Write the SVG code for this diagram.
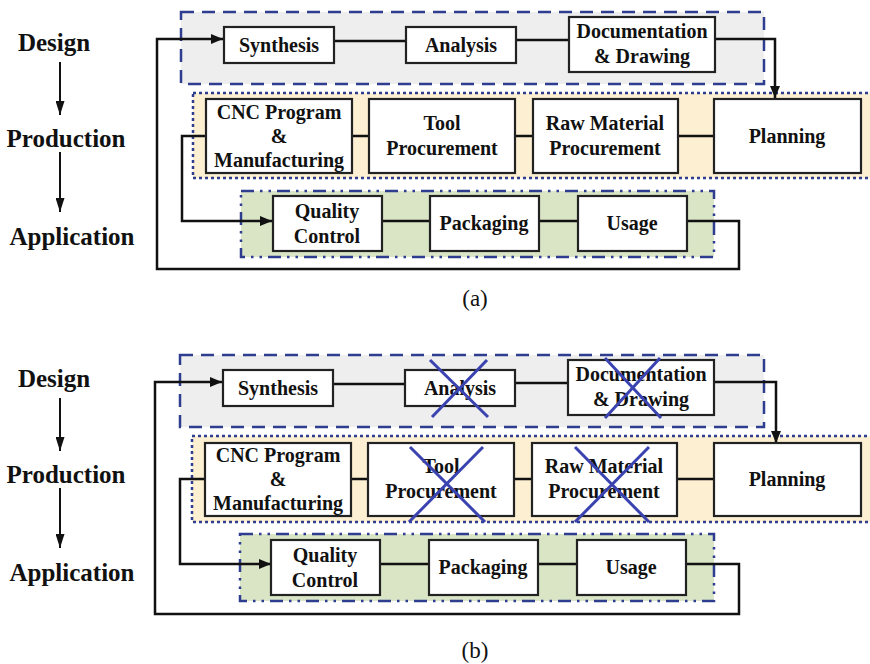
<svg xmlns="http://www.w3.org/2000/svg" width="870" height="664" viewBox="0 0 870 664">
<defs>
<style>
.lbl{font-family:"Liberation Serif","Times New Roman",serif;font-weight:bold;font-size:25px;fill:#111;text-anchor:middle}
.t{font-family:"Liberation Serif","Times New Roman",serif;font-weight:bold;font-size:20px;fill:#111;text-anchor:middle}
.cap{font-family:"Liberation Serif","Times New Roman",serif;font-size:23px;fill:#111;text-anchor:middle}
.box{fill:#fff;stroke:#222;stroke-width:2.2}
.con{fill:none;stroke:#111;stroke-width:2.5}
.arr{fill:none;stroke:#111;stroke-width:2.5;marker-end:url(#ah)}
.sa{stroke:#111;stroke-width:2;marker-end:url(#ah2)}
.des{fill:#eeeeee;stroke:#2e3d8f;stroke-width:2.5;stroke-dasharray:13 8}
.pro{fill:#fcefd2;stroke:#2e3d8f;stroke-width:2.5;stroke-dasharray:3 3}
.app{fill:#dae5c6;stroke:#2e3d8f;stroke-width:2.5;stroke-dasharray:13 6 2.5 6 2.5 6}
.x{stroke:#3a43b0;stroke-width:3;fill:none}
</style>
<marker id="ah" viewBox="0 0 12 10" refX="12" refY="5" markerWidth="12" markerHeight="10" markerUnits="userSpaceOnUse" orient="auto">
<path d="M0,0 L12,5 L0,10 Z" fill="#111"/>
</marker>
<marker id="ah2" viewBox="0 0 14 9" refX="14" refY="4.5" markerWidth="14" markerHeight="9" markerUnits="userSpaceOnUse" orient="auto">
<path d="M0,0 L14,4.5 L0,9 Z" fill="#111"/>
</marker>
</defs>
<rect width="870" height="664" fill="#fff"/>

<g id="stages-a">
<text class="lbl" x="54" y="51">Design</text>
<text class="lbl" x="66" y="147">Production</text>
<text class="lbl" x="72" y="245">Application</text>
<line class="sa" x1="60" y1="62" x2="60" y2="115"/>
<line class="sa" x1="60" y1="152" x2="60" y2="212"/>
</g>

<g id="panel-a">
<g id="a-design-group"><rect class="des" x="181" y="12" width="583" height="72"/></g>
<g id="a-production-group"><rect class="pro" x="193" y="93" width="700" height="85"/></g>
<g id="a-application-group"><rect class="app" x="241" y="191" width="473" height="66"/></g>
<g id="a-connectors">
<line class="con" x1="334" y1="41" x2="406" y2="41"/>
<line class="con" x1="516" y1="40" x2="569" y2="40"/>
<path class="arr" d="M715,39 H775 V98"/>
<path class="arr" d="M687,221 H739 V269 H157 V39 H223"/>
<path class="arr" d="M206,136 H182 V221 H272"/>
<line class="con" x1="352" y1="136" x2="369" y2="136"/>
<line class="con" x1="515" y1="136" x2="533" y2="136"/>
<line class="con" x1="678" y1="136" x2="714" y2="136"/>
<line class="con" x1="382" y1="221" x2="430" y2="221"/>
<line class="con" x1="539" y1="221" x2="578" y2="221"/>
</g>
<g id="a-synthesis"><rect class="box" x="224" y="27" width="110" height="36"/><text class="t" x="279" y="52">Synthesis</text></g>
<g id="a-analysis"><rect class="box" x="406" y="27" width="110" height="36"/><text class="t" x="461" y="52">Analysis</text></g>
<g id="a-documentation"><rect class="box" x="569" y="17" width="146" height="55"/><text class="t" x="642" y="38">Documentation</text><text class="t" x="642" y="63">&amp; Drawing</text></g>
<g id="a-cnc"><rect class="box" x="206" y="99" width="146" height="74"/><text class="t" x="279" y="119">CNC Program</text><text class="t" x="279" y="143">&amp;</text><text class="t" x="279" y="167">Manufacturing</text></g>
<g id="a-tool"><rect class="box" x="369" y="99" width="146" height="74"/><text class="t" x="442" y="130">Tool</text><text class="t" x="442" y="155">Procurement</text></g>
<g id="a-raw"><rect class="box" x="533" y="99" width="145" height="74"/><text class="t" x="605" y="130">Raw Material</text><text class="t" x="605" y="155">Procurement</text></g>
<g id="a-planning"><rect class="box" x="714" y="99" width="147" height="74"/><text class="t" x="787" y="143">Planning</text></g>
<g id="a-quality"><rect class="box" x="273" y="196" width="109" height="55"/><text class="t" x="327" y="218">Quality</text><text class="t" x="327" y="243">Control</text></g>
<g id="a-packaging"><rect class="box" x="430" y="196" width="109" height="55"/><text class="t" x="484" y="230">Packaging</text></g>
<g id="a-usage"><rect class="box" x="578" y="196" width="109" height="55"/><text class="t" x="632" y="230">Usage</text></g>
</g>
<text class="cap" x="475" y="306">(a)</text>

<g id="stages-b" transform="translate(0,336)">
<text class="lbl" x="54" y="51">Design</text>
<text class="lbl" x="66" y="147">Production</text>
<text class="lbl" x="72" y="245">Application</text>
<line class="sa" x1="60" y1="62" x2="60" y2="115"/>
<line class="sa" x1="60" y1="152" x2="60" y2="212"/>
</g>

<g id="panel-b" transform="translate(-1,343)">
<g id="b-design-group"><rect class="des" x="181" y="12" width="584" height="72"/></g>
<g id="b-production-group"><rect class="pro" x="193" y="93" width="700" height="86"/></g>
<g id="b-application-group"><rect class="app" x="241" y="191" width="474" height="67"/></g>
<g id="b-connectors">
<line class="con" x1="334" y1="41" x2="406" y2="41"/>
<line class="con" x1="516" y1="40" x2="569" y2="40"/>
<path class="arr" d="M715,39 H777 V100"/>
<path class="arr" d="M687,221 H740 V271 H156 V39 H223"/>
<path class="arr" d="M206,136 H181 V221 H272"/>
<line class="con" x1="352" y1="136" x2="369" y2="136"/>
<line class="con" x1="515" y1="136" x2="533" y2="136"/>
<line class="con" x1="678" y1="136" x2="715" y2="136"/>
<line class="con" x1="382" y1="221" x2="430" y2="221"/>
<line class="con" x1="539" y1="221" x2="578" y2="221"/>
</g>
<g id="b-synthesis"><rect class="box" x="224" y="27" width="110" height="36"/><text class="t" x="279" y="52">Synthesis</text></g>
<g id="b-analysis"><rect class="box" x="406" y="27" width="110" height="36"/><text class="t" x="461" y="52">Analysis</text></g>
<g id="b-documentation"><rect class="box" x="569" y="17" width="146" height="55"/><text class="t" x="642" y="38">Documentation</text><text class="t" x="642" y="63">&amp; Drawing</text></g>
<g id="b-cnc"><rect class="box" x="206" y="100" width="146" height="73"/><text class="t" x="279" y="119">CNC Program</text><text class="t" x="279" y="143">&amp;</text><text class="t" x="279" y="167">Manufacturing</text></g>
<g id="b-tool"><rect class="box" x="369" y="100" width="146" height="73"/><text class="t" x="442" y="130">Tool</text><text class="t" x="442" y="155">Procurement</text></g>
<g id="b-raw"><rect class="box" x="533" y="100" width="145" height="73"/><text class="t" x="605" y="130">Raw Material</text><text class="t" x="605" y="155">Procurement</text></g>
<g id="b-planning"><rect class="box" x="715" y="100" width="147" height="73"/><text class="t" x="788" y="143">Planning</text></g>
<g id="b-quality"><rect class="box" x="272" y="197" width="109" height="55"/><text class="t" x="326" y="219">Quality</text><text class="t" x="326" y="244">Control</text></g>
<g id="b-packaging"><rect class="box" x="430" y="197" width="109" height="55"/><text class="t" x="484" y="231">Packaging</text></g>
<g id="b-usage"><rect class="box" x="578" y="197" width="109" height="55"/><text class="t" x="632" y="231">Usage</text></g>
</g>
<g id="b-crosses">
<path class="x" d="M430,360 L488,417 M487,360 L432,417"/>
<path class="x" d="M605,358 L661,418 M660,358 L605,418"/>
<path class="x" d="M410,447 L485,522 M483,447 L409,522"/>
<path class="x" d="M575,447 L649,522 M649,447 L575,522"/>
</g>
<text class="cap" x="475" y="658">(b)</text>
</svg>
